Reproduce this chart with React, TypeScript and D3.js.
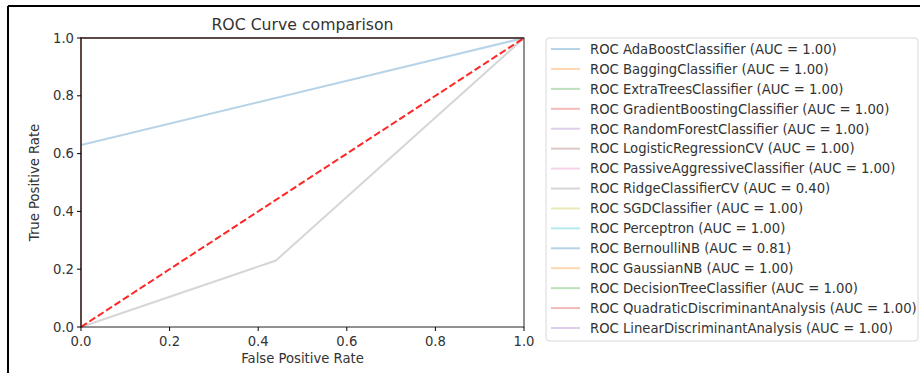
import React from "react";
import * as d3 from "d3";

const models = [
  "AdaBoostClassifier",
  "BaggingClassifier",
  "ExtraTreesClassifier",
  "GradientBoostingClassifier",
  "RandomForestClassifier",
  "LogisticRegressionCV",
  "PassiveAggressiveClassifier",
  "RidgeClassifierCV",
  "SGDClassifier",
  "Perceptron",
  "BernoulliNB",
  "GaussianNB",
  "DecisionTreeClassifier",
  "QuadraticDiscriminantAnalysis",
  "LinearDiscriminantAnalysis",
];
const aucs = [1.0, 1.0, 1.0, 1.0, 1.0, 1.0, 1.0, 0.4, 1.0, 1.0, 0.81, 1.0, 1.0, 1.0, 1.0];
const fprs: number[][] = [
  [0, 0, 1], [0, 0, 1], [0, 0, 1], [0, 0, 1], [0, 0, 1], [0, 0, 1], [0, 0, 1],
  [0, 0.44, 1],
  [0, 0, 1], [0, 0, 1],
  [0, 0, 1],
  [0, 0, 1], [0, 0, 1], [0, 0, 1], [0, 0, 1],
];
const tprs: number[][] = [
  [0, 1, 1], [0, 1, 1], [0, 1, 1], [0, 1, 1], [0, 1, 1], [0, 1, 1], [0, 1, 1],
  [0, 0.23, 1],
  [0, 1, 1], [0, 1, 1],
  [0, 0.63, 1],
  [0, 1, 1], [0, 1, 1], [0, 1, 1], [0, 1, 1],
];
const ticks = [0, 0.2, 0.4, 0.6, 0.8, 1.0];
const palette = ["#1f77b4", "#ff7f0e", "#2ca02c", "#d62728", "#9467bd", "#8c564b", "#e377c2", "#7f7f7f", "#bcbd22", "#17becf"];

const FONT = "DejaVu Sans, sans-serif";

export default function App() {
  const W = 920, H = 373;
  const left = 81, right = 524, top = 38, bottom = 327;
  const x = d3.scaleLinear().domain([0, 1]).range([left, right]);
  const y = d3.scaleLinear().domain([0, 1]).range([bottom, top]);
  const line = d3.line<[number, number]>().x(d => x(d[0])).y(d => y(d[1]));

  const legX = 546, legY = 38, legW = 372, rowH = 19.93, firstRow = 49;
  const legH = 303;

  return (
    <svg width={W} height={H} style={{ position: "absolute", left: 0, top: 0, background: "#fff" }} fontFamily={FONT}>
      <rect x={0} y={0} width={W} height={H} fill="#fff" />
      {/* outer frame */}
      <line x1={8} y1={6} x2={W} y2={6} stroke="#000" strokeWidth={2} />
      <line x1={8} y1={6} x2={8} y2={H} stroke="#000" strokeWidth={2} />

      <defs>
        <clipPath id="plotclip">
          <rect x={left - 2} y={top - 2} width={right - left + 4} height={bottom - top + 4} />
        </clipPath>
      </defs>

      <g clipPath="url(#plotclip)">
        {models.map((m, i) => (
          <path
            key={m}
            d={line(fprs[i].map((f, j) => [f, tprs[i][j]] as [number, number])) || ""}
            fill="none"
            stroke={palette[i % 10]}
            strokeOpacity={0.32}
            strokeWidth={2}
          />
        ))}
        <path
          d={line([[0, 0], [1, 1]]) || ""}
          fill="none"
          stroke="#ff0000"
          strokeOpacity={0.85}
          strokeWidth={2}
          strokeDasharray="7,3"
        />
      </g>

      {/* spines */}
      <rect x={left} y={top} width={right - left} height={bottom - top} fill="none" stroke="#222" strokeWidth={1} />

      {/* x ticks */}
      {ticks.map(t => (
        <g key={"x" + t}>
          <line x1={x(t)} x2={x(t)} y1={bottom} y2={bottom + 4} stroke="#000" strokeWidth={1} />
          <text x={x(t)} y={bottom + 19} textAnchor="middle" fontSize={13.2} fill="#333">{t.toFixed(1)}</text>
        </g>
      ))}
      {ticks.map(t => (
        <g key={"y" + t}>
          <line x1={left - 4} x2={left} y1={y(t)} y2={y(t)} stroke="#000" strokeWidth={1} />
          <text x={left - 7} y={y(t) + 4.5} textAnchor="end" fontSize={13.2} fill="#333">{t.toFixed(1)}</text>
        </g>
      ))}

      <text x={(left + right) / 2} y={bottom + 36} textAnchor="middle" fontSize={13.2} fill="#333">False Positive Rate</text>
      <text transform={`translate(39,${(top + bottom) / 2}) rotate(-90)`} textAnchor="middle" fontSize={13.2} fill="#333">True Positive Rate</text>
      <text x={(left + right) / 2} y={30} textAnchor="middle" fontSize={15.7} fill="#333">ROC Curve comparison</text>

      {/* legend */}
      <rect x={legX} y={legY} width={legW} height={legH} rx={3} fill="#fff" stroke="#d8d8d8" strokeWidth={1} />
      {models.map((m, i) => {
        const cy = firstRow + i * rowH;
        return (
          <g key={"leg" + m}>
            <line x1={551} x2={580} y1={cy} y2={cy} stroke={palette[i % 10]} strokeOpacity={0.32} strokeWidth={2} />
            <text x={590} y={cy + 4.8} fontSize={13.2} fill="#333">{`ROC ${m} (AUC = ${aucs[i].toFixed(2)})`}</text>
          </g>
        );
      })}
    </svg>
  );
}
